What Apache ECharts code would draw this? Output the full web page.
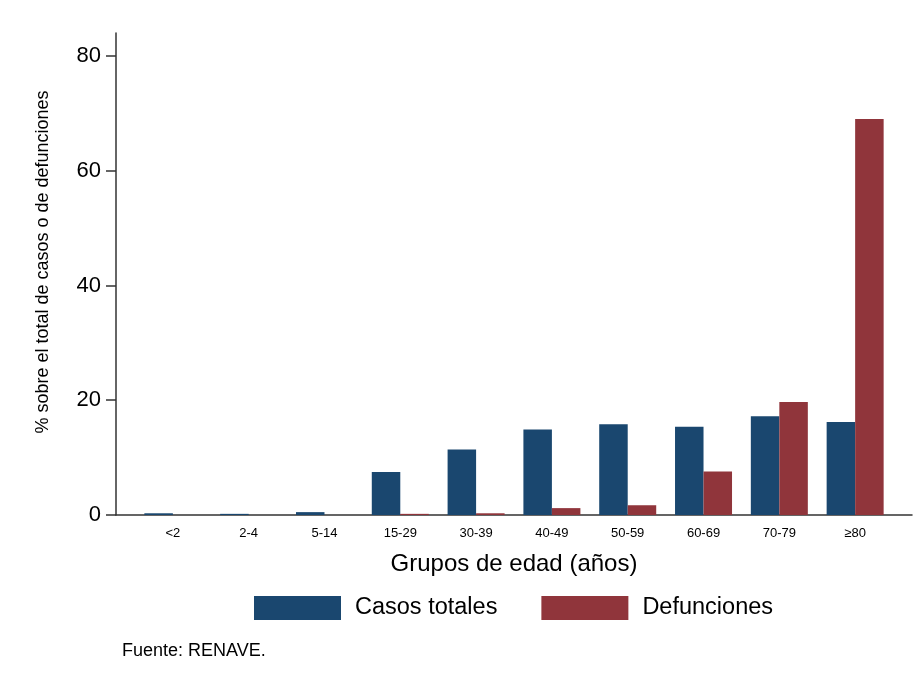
<!DOCTYPE html>
<html>
<head>
<meta charset="utf-8">
<script src="https://cdn.jsdelivr.net/npm/echarts@6/dist/echarts.min.js"></script>
<style>
html,body{margin:0;padding:0;background:#fff;}
#chart{width:924px;height:681px;}
</style>
</head>
<body>
<div id="chart"></div>
<script>
const categories = ['<2', '2-4', '5-14', '15-29', '30-39', '40-49', '50-59', '60-69', '70-79', '\u226580'];
const casosTotales = [0.3, 0.2, 0.5, 7.5, 11.4, 14.9, 15.8, 15.4, 17.2, 16.2];
const defunciones = [0, 0, 0, 0.2, 0.3, 1.2, 1.7, 7.6, 19.7, 69.0];
const yTicks = [0, 20, 40, 60, 80];

const FONT = '"Liberation Sans", Arial, sans-serif';
const chart = echarts.init(document.getElementById('chart'), null, {renderer: 'canvas'});
const idx = categories.map((c, i) => i);

chart.setOption({
  animation: false,
  backgroundColor: '#fff',
  textStyle: {fontFamily: FONT, color: '#000'},
  title: {
    text: 'Fuente: RENAVE.',
    left: 122, top: 642, padding: 0,
    textStyle: {fontFamily: FONT, fontSize: 18, fontWeight: 'normal', color: '#000'}
  },
  legend: {
    left: 254, top: 596, padding: 0,
    itemWidth: 87, itemHeight: 24, itemGap: 44,
    icon: 'rect',
    textStyle: {fontFamily: FONT, fontSize: 23.5, color: '#000', padding: [0, 0, 0, 9]},
    data: ['Casos totales', 'Defunciones']
  },
  grid: {left: 116, right: 12, top: 33, bottom: 166, containLabel: false},
  xAxis: {
    type: 'value',
    min: -0.75, max: 9.75,
    name: 'Grupos de edad (a\u00f1os)',
    nameLocation: 'middle', nameGap: 37,
    nameTextStyle: {fontFamily: FONT, fontSize: 24, color: '#000'},
    axisLine: {show: true, onZero: false, lineStyle: {color: '#333', width: 1.5}},
    axisTick: {show: false},
    splitLine: {show: false},
    axisLabel: {
      customValues: idx,
      formatter: v => categories[Math.round(v)],
      fontFamily: FONT, fontSize: 13, color: '#000', margin: 12
    }
  },
  yAxis: {
    type: 'value',
    min: 0, max: 84,
    name: '% sobre el total de casos o de defunciones',
    nameLocation: 'middle', nameGap: 64, nameRotate: 90,
    nameTextStyle: {fontFamily: FONT, fontSize: 18, color: '#000', padding: [0, 0, 0, 24]},
    axisLine: {show: true, onZero: false, lineStyle: {color: '#333', width: 1.5}},
    axisTick: {show: true, inside: false, length: 10, customValues: yTicks, lineStyle: {color: '#333', width: 1.5}},
    splitLine: {show: false},
    axisLabel: {customValues: yTicks, fontFamily: FONT, fontSize: 22, color: '#000', margin: 15}
  },
  series: [
    {
      name: 'Casos totales', type: 'bar',
      data: idx.map(i => [i, casosTotales[i]]),
      barWidth: 28.5, barGap: '0%',
      itemStyle: {color: '#1a476f'}
    },
    {
      name: 'Defunciones', type: 'bar',
      data: idx.map(i => [i, defunciones[i]]),
      barWidth: 28.5, barGap: '0%',
      itemStyle: {color: '#90353b'}
    }
  ]
});
</script>
</body>
</html>
